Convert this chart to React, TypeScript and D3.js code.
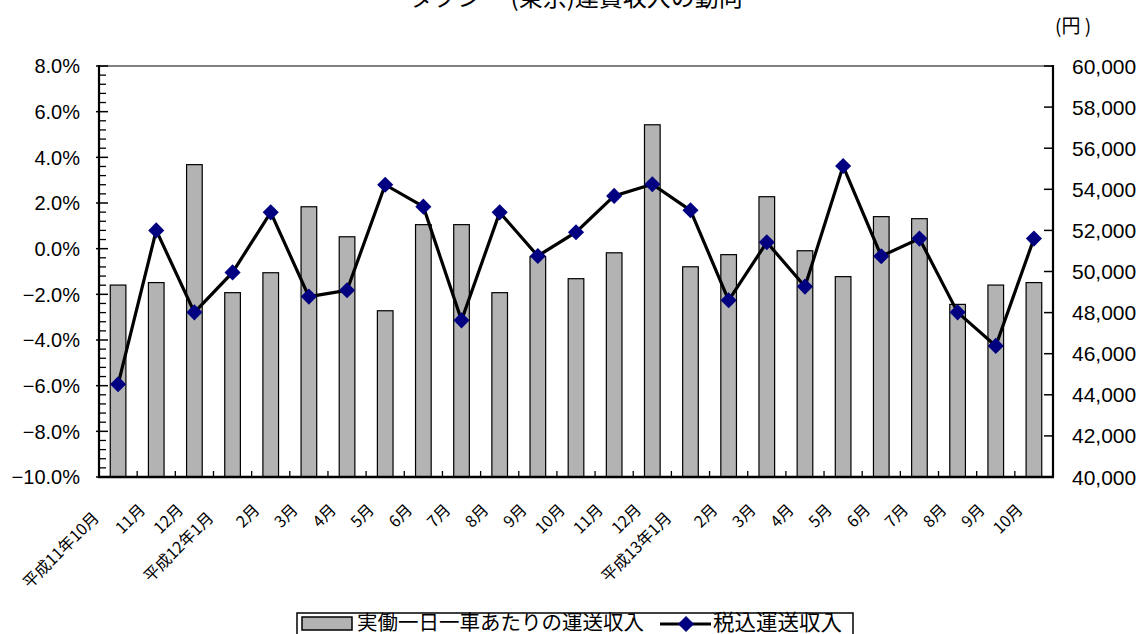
import { useRef, useEffect } from 'react'
import * as d3 from 'd3'

// DATA
const categories = [
  '平成11年10月', '11月', '12月',
  '平成12年1月', '2月', '3月', '4月', '5月', '6月', '7月', '8月', '9月', '10月', '11月', '12月',
  '平成13年1月', '2月', '3月', '4月', '5月', '6月', '7月', '8月', '9月', '10月'
]

// 実働一日一車あたりの運送収入 (円, right axis)
const perCarRevenue = [
  49340, 49460, 55200, 48970, 49940, 53150, 51690, 48090, 52280, 52280, 48970, 50720, 49650,
  50910, 57140, 50230, 50820, 53640, 51010, 49750, 52670, 52570, 48400, 49340, 49460
]

// 税込運送収入 (前年比 %, left axis)
const taxIncludedChange = [
  -5.94, 0.80, -2.79, -1.04, 1.59, -2.10, -1.82, 2.80, 1.84, -3.14, 1.59, -0.32, 0.72,
  2.31, 2.82, 1.68, -2.26, 0.28, -1.66, 3.62, -0.33, 0.44, -2.79, -4.26, 0.44
]

const leftTicks = [-10, -8, -6, -4, -2, 0, 2, 4, 6, 8]
const rightTicks = [40000, 42000, 44000, 46000, 48000, 50000, 52000, 54000, 56000, 58000, 60000]

const title = 'タクシー (東京)運賃収入の動向'
const barLabel = '実働一日一車あたりの運送収入'
const lineLabel = '税込運送収入'
const unitLabel = '(円 )'

const JP = '"Noto Sans CJK JP", "Noto Sans", sans-serif'
const NUM = '"Liberation Sans", Arial, sans-serif'

const Chart = () => {
  const ref = useRef<SVGSVGElement>(null)

  useEffect(() => {
    const totalWidth = 1148,
      totalHeight = 634,
      margin = { left: 99, top: 66, right: 95, bottom: 157 },
      width = totalWidth - margin.left - margin.right,
      height = totalHeight - margin.top - margin.bottom

    const svg = d3.select(ref.current)
    svg.selectAll('*').remove()

    // SCALES
    const x = d3.scaleBand<number>()
      .domain(d3.range(categories.length))
      .range([0, width])
    const yLeft = d3.scaleLinear().domain([-10, 8]).range([height, 0])
    const yRight = d3.scaleLinear().domain([40000, 60000]).range([height, 0])

    // TITLE (the top of it is cut off by the page edge, as in the source)
    svg.append('text')
      .attr('x', 576).attr('y', 6)
      .attr('text-anchor', 'middle')
      .style('font-family', JP).style('font-size', '24px')
      .text(title)

    svg.append('text')
      .attr('x', 1055).attr('y', 33)
      .style('font-family', JP).style('font-size', '19px')
      .text(unitLabel)

    const plot = svg.append('g')
      .attr('transform', `translate(${margin.left}, ${margin.top})`)

    // BARS
    const barW = x.bandwidth() * 0.41
    plot.append('g').selectAll('rect')
      .data(perCarRevenue)
      .enter()
      .append('rect')
        .attr('x', (d, i) => x(i)! + x.bandwidth() / 2 - barW / 2)
        .attr('y', d => yRight(d))
        .attr('width', barW)
        .attr('height', d => height - yRight(d))
        .attr('fill', '#b3b3b3')
        .attr('stroke', '#000')
        .attr('stroke-width', 1.2)

    // LINE
    plot.append('path')
      .datum(taxIncludedChange)
      .attr('fill', 'none')
      .attr('stroke', '#000')
      .attr('stroke-width', 3.2)
      .attr('d', d3.line<number>()
        .x((d, i) => x(i)! + x.bandwidth() / 2)
        .y(d => yLeft(d)))

    const diamond = d3.symbol().type(d3.symbolSquare).size(130)
    plot.append('g').selectAll('path')
      .data(taxIncludedChange)
      .enter()
      .append('path')
        .attr('d', diamond)
        .attr('transform', (d, i) => `translate(${x(i)! + x.bandwidth() / 2}, ${yLeft(d)}) rotate(45)`)
        .attr('fill', '#000080')

    // FRAME
    plot.append('line')
      .attr('x1', 0).attr('x2', width).attr('y1', 0).attr('y2', 0)
      .attr('stroke', '#808080').attr('stroke-width', 2)

    // LEFT AXIS
    const minor = d3.range(-10, 8.001, 0.4).filter(v => Math.abs(v / 2 - Math.round(v / 2)) > 0.01)
    plot.append('g').selectAll('line')
      .data(minor)
      .enter()
      .append('line')
        .attr('x1', 0).attr('x2', 7)
        .attr('y1', d => yLeft(d)).attr('y2', d => yLeft(d))
        .attr('stroke', '#000').attr('stroke-width', 1.3)
    plot.append('g').selectAll('line')
      .data(leftTicks)
      .enter()
      .append('line')
        .attr('x1', -3).attr('x2', 9)
        .attr('y1', d => yLeft(d)).attr('y2', d => yLeft(d))
        .attr('stroke', '#000').attr('stroke-width', 1.5)
    plot.append('g').selectAll('text')
      .data(leftTicks)
      .enter()
      .append('text')
        .attr('x', -19)
        .attr('y', d => yLeft(d))
        .attr('dy', '0.36em')
        .attr('text-anchor', 'end')
        .style('font-family', NUM).style('font-size', '20px')
        .text(d => d3.format('.1f')(d) + '%')
    plot.append('line')
      .attr('x1', 0).attr('x2', 0).attr('y1', -1).attr('y2', height)
      .attr('stroke', '#000').attr('stroke-width', 2.2)

    // RIGHT AXIS
    plot.append('g').selectAll('line')
      .data(rightTicks)
      .enter()
      .append('line')
        .attr('x1', width - 9).attr('x2', width)
        .attr('y1', d => yRight(d)).attr('y2', d => yRight(d))
        .attr('stroke', '#000').attr('stroke-width', 1.5)
    plot.append('g').selectAll('text')
      .data(rightTicks)
      .enter()
      .append('text')
        .attr('x', width + 19)
        .attr('y', d => yRight(d))
        .attr('dy', '0.36em')
        .style('font-family', NUM).style('font-size', '21px')
        .text(d => d3.format(',')(d))
    plot.append('line')
      .attr('x1', width).attr('x2', width).attr('y1', -1).attr('y2', height)
      .attr('stroke', '#000').attr('stroke-width', 2.2)

    // BOTTOM AXIS
    plot.append('g').selectAll('line')
      .data(d3.range(1, categories.length))
      .enter()
      .append('line')
        .attr('x1', d => x(d)!).attr('x2', d => x(d)!)
        .attr('y1', height).attr('y2', height - 6)
        .attr('stroke', '#000').attr('stroke-width', 1.3)
    plot.append('line')
      .attr('x1', -1).attr('x2', width + 1).attr('y1', height).attr('y2', height)
      .attr('stroke', '#000').attr('stroke-width', 2.6)

    plot.append('g').selectAll('text')
      .data(categories)
      .enter()
      .append('text')
        .attr('transform', (d, i) => {
          const shift = d.length > 4 ? 8 : 0
          const ax = x(i)! + x.bandwidth() / 2 - 14 - shift
          const ay = height + 30 + shift
          return `translate(${ax}, ${ay}) rotate(-45)`
        })
        .attr('text-anchor', 'end')
        .attr('dy', '0.35em')
        .style('font-family', JP).style('font-size', '16px')
        .text(d => d)

    // LEGEND
    const legend = svg.append('g')
    legend.append('rect')
      .attr('x', 297).attr('y', 613).attr('width', 556).attr('height', 30)
      .attr('fill', '#fff').attr('stroke', '#000').attr('stroke-width', 1.5)
    legend.append('rect')
      .attr('x', 302).attr('y', 617).attr('width', 50).attr('height', 13)
      .attr('fill', '#b3b3b3').attr('stroke', '#000').attr('stroke-width', 1.5)
    legend.append('text')
      .attr('x', 357).attr('y', 630)
      .style('font-family', JP).style('font-size', '20.5px')
      .text(barLabel)
    legend.append('line')
      .attr('x1', 660).attr('x2', 711).attr('y1', 624).attr('y2', 624)
      .attr('stroke', '#000').attr('stroke-width', 3.2)
    legend.append('path')
      .attr('d', diamond)
      .attr('transform', 'translate(686, 624) rotate(45)')
      .attr('fill', '#000080')
    legend.append('text')
      .attr('x', 713).attr('y', 630)
      .style('font-family', JP).style('font-size', '21.5px')
      .text(lineLabel)
  }, [])

  return (
    <svg ref={ref} width={1148} height={634}
      style={{ position: 'absolute', left: 0, top: 0, display: 'block', background: '#fff' }} />
  )
}

const App = () => <Chart />

export default App
